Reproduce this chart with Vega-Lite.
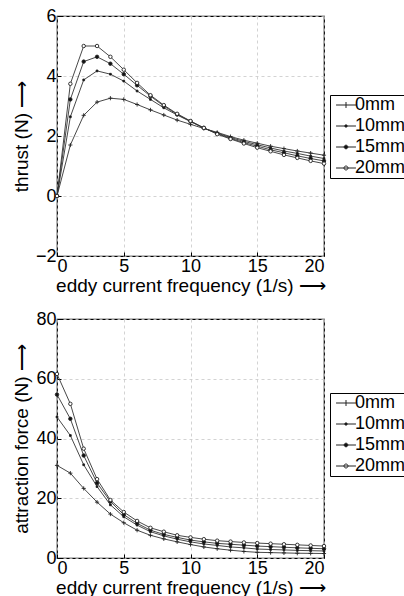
{
  "$schema": "https://vega.github.io/schema/vega-lite/v6.json",
  "padding": {"left": 11, "top": 6, "right": 0, "bottom": 0},
  "background": "white",
  "spacing": 13,
  "config": {
    "font": "Liberation Sans",
    "view": {"stroke": "#000", "strokeWidth": 1.2},
    "axis": {
      "labelFont": "Liberation Sans", "labelFontSize": 18, "labelColor": "#000",
      "titleFont": "Liberation Sans", "titleFontSize": 19, "titleFontWeight": "normal", "titleColor": "#000",
      "domain": false, "tickColor": "#000", "tickSize": -4, "labelPadding": 5,
      "gridColor": "#c8c8c8", "gridDash": [3, 3], "gridWidth": 0.8
    },
    "legend": {
      "labelFont": "Liberation Sans", "labelFontSize": 18, "labelColor": "#000",
      "strokeColor": "#000", "padding": 1, "rowPadding": 3, "symbolSize": 44,
      "symbolOffset": 6, "labelOffset": 0, "symbolStrokeWidth": 1
    }
  },
  "datasets": {
    "thrust": [
      {"f":0,"s":" 0mm","v":0},{"f":1,"s":" 0mm","v":1.7},{"f":2,"s":" 0mm","v":2.69},{"f":3,"s":" 0mm","v":3.13},{"f":4,"s":" 0mm","v":3.26},{"f":5,"s":" 0mm","v":3.22},{"f":6,"s":" 0mm","v":3.05},{"f":7,"s":" 0mm","v":2.87},{"f":8,"s":" 0mm","v":2.7},{"f":9,"s":" 0mm","v":2.53},{"f":10,"s":" 0mm","v":2.39},{"f":11,"s":" 0mm","v":2.25},{"f":12,"s":" 0mm","v":2.12},{"f":13,"s":" 0mm","v":1.98},{"f":14,"s":" 0mm","v":1.86},{"f":15,"s":" 0mm","v":1.76},{"f":16,"s":" 0mm","v":1.66},{"f":17,"s":" 0mm","v":1.58},{"f":18,"s":" 0mm","v":1.5},{"f":19,"s":" 0mm","v":1.43},{"f":20,"s":" 0mm","v":1.36},
      {"f":0,"s":"10mm","v":0},{"f":1,"s":"10mm","v":2.64},{"f":2,"s":"10mm","v":3.87},{"f":3,"s":"10mm","v":4.17},{"f":4,"s":"10mm","v":4.06},{"f":5,"s":"10mm","v":3.83},{"f":6,"s":"10mm","v":3.5},{"f":7,"s":"10mm","v":3.22},{"f":8,"s":"10mm","v":2.94},{"f":9,"s":"10mm","v":2.7},{"f":10,"s":"10mm","v":2.48},{"f":11,"s":"10mm","v":2.26},{"f":12,"s":"10mm","v":2.1},{"f":13,"s":"10mm","v":1.95},{"f":14,"s":"10mm","v":1.82},{"f":15,"s":"10mm","v":1.71},{"f":16,"s":"10mm","v":1.6},{"f":17,"s":"10mm","v":1.5},{"f":18,"s":"10mm","v":1.42},{"f":19,"s":"10mm","v":1.33},{"f":20,"s":"10mm","v":1.25},
      {"f":0,"s":"15mm","v":0},{"f":1,"s":"15mm","v":3.22},{"f":2,"s":"15mm","v":4.48},{"f":3,"s":"15mm","v":4.64},{"f":4,"s":"15mm","v":4.41},{"f":5,"s":"15mm","v":4.06},{"f":6,"s":"15mm","v":3.69},{"f":7,"s":"15mm","v":3.33},{"f":8,"s":"15mm","v":3.0},{"f":9,"s":"15mm","v":2.72},{"f":10,"s":"15mm","v":2.49},{"f":11,"s":"15mm","v":2.27},{"f":12,"s":"15mm","v":2.08},{"f":13,"s":"15mm","v":1.92},{"f":14,"s":"15mm","v":1.78},{"f":15,"s":"15mm","v":1.66},{"f":16,"s":"15mm","v":1.54},{"f":17,"s":"15mm","v":1.44},{"f":18,"s":"15mm","v":1.34},{"f":19,"s":"15mm","v":1.25},{"f":20,"s":"15mm","v":1.17},
      {"f":0,"s":"20mm","v":0},{"f":1,"s":"20mm","v":3.74},{"f":2,"s":"20mm","v":5.0},{"f":3,"s":"20mm","v":5.0},{"f":4,"s":"20mm","v":4.64},{"f":5,"s":"20mm","v":4.21},{"f":6,"s":"20mm","v":3.77},{"f":7,"s":"20mm","v":3.36},{"f":8,"s":"20mm","v":3.03},{"f":9,"s":"20mm","v":2.74},{"f":10,"s":"20mm","v":2.5},{"f":11,"s":"20mm","v":2.27},{"f":12,"s":"20mm","v":2.06},{"f":13,"s":"20mm","v":1.9},{"f":14,"s":"20mm","v":1.75},{"f":15,"s":"20mm","v":1.61},{"f":16,"s":"20mm","v":1.49},{"f":17,"s":"20mm","v":1.37},{"f":18,"s":"20mm","v":1.27},{"f":19,"s":"20mm","v":1.17},{"f":20,"s":"20mm","v":1.08}
    ],
    "attraction": [
      {"f":0,"s":" 0mm","v":31.0},{"f":1,"s":" 0mm","v":28.4},{"f":2,"s":" 0mm","v":23.3},{"f":3,"s":" 0mm","v":18.7},{"f":4,"s":" 0mm","v":14.7},{"f":5,"s":" 0mm","v":11.8},{"f":6,"s":" 0mm","v":9.3},{"f":7,"s":" 0mm","v":7.6},{"f":8,"s":" 0mm","v":6.4},{"f":9,"s":" 0mm","v":5.4},{"f":10,"s":" 0mm","v":4.5},{"f":11,"s":" 0mm","v":3.7},{"f":12,"s":" 0mm","v":3.1},{"f":13,"s":" 0mm","v":2.6},{"f":14,"s":" 0mm","v":2.2},{"f":15,"s":" 0mm","v":1.9},{"f":16,"s":" 0mm","v":1.8},{"f":17,"s":" 0mm","v":1.7},{"f":18,"s":" 0mm","v":1.6},{"f":19,"s":" 0mm","v":1.55},{"f":20,"s":" 0mm","v":1.5},
      {"f":0,"s":"10mm","v":47.2},{"f":1,"s":"10mm","v":41.0},{"f":2,"s":"10mm","v":31.2},{"f":3,"s":"10mm","v":23.9},{"f":4,"s":"10mm","v":17.8},{"f":5,"s":"10mm","v":13.8},{"f":6,"s":"10mm","v":11.0},{"f":7,"s":"10mm","v":8.8},{"f":8,"s":"10mm","v":7.4},{"f":9,"s":"10mm","v":6.3},{"f":10,"s":"10mm","v":5.4},{"f":11,"s":"10mm","v":4.7},{"f":12,"s":"10mm","v":4.2},{"f":13,"s":"10mm","v":3.7},{"f":14,"s":"10mm","v":3.4},{"f":15,"s":"10mm","v":3.0},{"f":16,"s":"10mm","v":2.85},{"f":17,"s":"10mm","v":2.7},{"f":18,"s":"10mm","v":2.55},{"f":19,"s":"10mm","v":2.45},{"f":20,"s":"10mm","v":2.35},
      {"f":0,"s":"15mm","v":54.7},{"f":1,"s":"15mm","v":46.6},{"f":2,"s":"15mm","v":34.3},{"f":3,"s":"15mm","v":25.1},{"f":4,"s":"15mm","v":18.9},{"f":5,"s":"15mm","v":14.5},{"f":6,"s":"15mm","v":11.6},{"f":7,"s":"15mm","v":9.3},{"f":8,"s":"15mm","v":7.9},{"f":9,"s":"15mm","v":6.9},{"f":10,"s":"15mm","v":6.0},{"f":11,"s":"15mm","v":5.4},{"f":12,"s":"15mm","v":4.9},{"f":13,"s":"15mm","v":4.6},{"f":14,"s":"15mm","v":4.3},{"f":15,"s":"15mm","v":4.0},{"f":16,"s":"15mm","v":3.8},{"f":17,"s":"15mm","v":3.6},{"f":18,"s":"15mm","v":3.4},{"f":19,"s":"15mm","v":3.25},{"f":20,"s":"15mm","v":3.1},
      {"f":0,"s":"20mm","v":61.6},{"f":1,"s":"20mm","v":51.6},{"f":2,"s":"20mm","v":36.6},{"f":3,"s":"20mm","v":26.4},{"f":4,"s":"20mm","v":19.4},{"f":5,"s":"20mm","v":15.4},{"f":6,"s":"20mm","v":12.4},{"f":7,"s":"20mm","v":10.1},{"f":8,"s":"20mm","v":8.8},{"f":9,"s":"20mm","v":7.6},{"f":10,"s":"20mm","v":6.9},{"f":11,"s":"20mm","v":6.3},{"f":12,"s":"20mm","v":5.8},{"f":13,"s":"20mm","v":5.5},{"f":14,"s":"20mm","v":5.2},{"f":15,"s":"20mm","v":5.0},{"f":16,"s":"20mm","v":4.8},{"f":17,"s":"20mm","v":4.6},{"f":18,"s":"20mm","v":4.4},{"f":19,"s":"20mm","v":4.2},{"f":20,"s":"20mm","v":4.0}
    ]
  },
  "vconcat": [
    {
      "width": 267, "height": 240,
      "data": {"name": "thrust"},
      "encoding": {
        "x": {"field": "f", "type": "quantitative", "scale": {"domain": [0, 20], "nice": false},
              "axis": {"values": [0, 5, 10, 15, 20], "title": "eddy current frequency (1/s) ⟶", "titlePadding": 1}},
        "y": {"field": "v", "type": "quantitative", "scale": {"domain": [-2, 6], "nice": false},
              "axis": {"values": [-2, 0, 2, 4, 6], "title": "thrust (N) ⟶", "titlePadding": 4}}
      },
      "layer": [
        {"mark": {"type": "line", "stroke": "#333", "strokeWidth": 0.9}, "encoding": {"detail": {"field": "s"}}},
        {"mark": {"type": "point", "opacity": 1, "strokeWidth": 0.9, "size": 12, "stroke": "#222"},
         "encoding": {
           "shape": {"field": "s", "type": "nominal",
             "scale": {"domain": [" 0mm","10mm","15mm","20mm"], "range": ["M-1.2,0H1.2M0,-1.2V1.2", "M-0.5,-0.5H0.5V0.5H-0.5Z", "circle", "circle"]},
             "legend": null},
           "fill": {"field": "s", "type": "nominal", "scale": {"domain": [" 0mm","10mm","15mm","20mm"], "range": ["#000", "#000", "#111", "#fff"]}, "legend": null}
         }},
        {"transform": [{"filter": "datum.f > 100"}],
         "mark": {"type": "point", "opacity": 1, "stroke": "#222", "strokeWidth": 1},
         "encoding": {
           "shape": {"field": "s", "type": "nominal",
             "scale": {"domain": [" 0mm","10mm","15mm","20mm"], "range": ["M-3,0H3M0,-0.9V0.9", "M-3,0H3M-0.3,-0.3H0.3V0.3H-0.3Z", "M-3,0H3M0.55,0A0.55,0.55,0,1,1,-0.55,0A0.55,0.55,0,1,1,0.55,0Z", "M-3,0H3M0.6,0A0.6,0.6,0,1,1,-0.6,0A0.6,0.6,0,1,1,0.6,0Z"]},
             "legend": {"title": null, "orient": "none", "legendX": 273, "legendY": 79}},
           "fill": {"field": "s", "type": "nominal", "scale": {"domain": [" 0mm","10mm","15mm","20mm"], "range": ["#000", "#000", "#000", "#fff"]},
             "legend": {"title": null, "orient": "none", "legendX": 273, "legendY": 79}}
         }}
      ],
      "resolve": {"scale": {"shape": "independent", "fill": "independent"}}
    },
    {
      "width": 267, "height": 239,
      "data": {"name": "attraction"},
      "encoding": {
        "x": {"field": "f", "type": "quantitative", "scale": {"domain": [0, 20], "nice": false},
              "axis": {"values": [0, 5, 10, 15, 20], "title": "eddy current frequency (1/s) ⟶", "titlePadding": 1}},
        "y": {"field": "v", "type": "quantitative", "scale": {"domain": [0, 80], "nice": false},
              "axis": {"values": [0, 20, 40, 60, 80], "title": "attraction force (N) ⟶", "titlePadding": 4}}
      },
      "layer": [
        {"mark": {"type": "line", "stroke": "#333", "strokeWidth": 0.9}, "encoding": {"detail": {"field": "s"}}},
        {"mark": {"type": "point", "opacity": 1, "strokeWidth": 0.9, "size": 12, "stroke": "#222"},
         "encoding": {
           "shape": {"field": "s", "type": "nominal",
             "scale": {"domain": [" 0mm","10mm","15mm","20mm"], "range": ["M-1.2,0H1.2M0,-1.2V1.2", "M-0.5,-0.5H0.5V0.5H-0.5Z", "circle", "circle"]},
             "legend": null},
           "fill": {"field": "s", "type": "nominal", "scale": {"domain": [" 0mm","10mm","15mm","20mm"], "range": ["#000", "#000", "#111", "#fff"]}, "legend": null}
         }},
        {"transform": [{"filter": "datum.f > 100"}],
         "mark": {"type": "point", "opacity": 1, "stroke": "#222", "strokeWidth": 1},
         "encoding": {
           "shape": {"field": "s", "type": "nominal",
             "scale": {"domain": [" 0mm","10mm","15mm","20mm"], "range": ["M-3,0H3M0,-0.9V0.9", "M-3,0H3M-0.3,-0.3H0.3V0.3H-0.3Z", "M-3,0H3M0.55,0A0.55,0.55,0,1,1,-0.55,0A0.55,0.55,0,1,1,0.55,0Z", "M-3,0H3M0.6,0A0.6,0.6,0,1,1,-0.6,0A0.6,0.6,0,1,1,0.6,0Z"]},
             "legend": {"title": null, "orient": "none", "legendX": 273, "legendY": 74}},
           "fill": {"field": "s", "type": "nominal", "scale": {"domain": [" 0mm","10mm","15mm","20mm"], "range": ["#000", "#000", "#000", "#fff"]},
             "legend": {"title": null, "orient": "none", "legendX": 273, "legendY": 74}}
         }}
      ],
      "resolve": {"scale": {"shape": "independent", "fill": "independent"}}
    }
  ],
  "resolve": {"scale": {"shape": "independent", "fill": "independent"}, "legend": {"shape": "independent", "fill": "independent"}}
}
